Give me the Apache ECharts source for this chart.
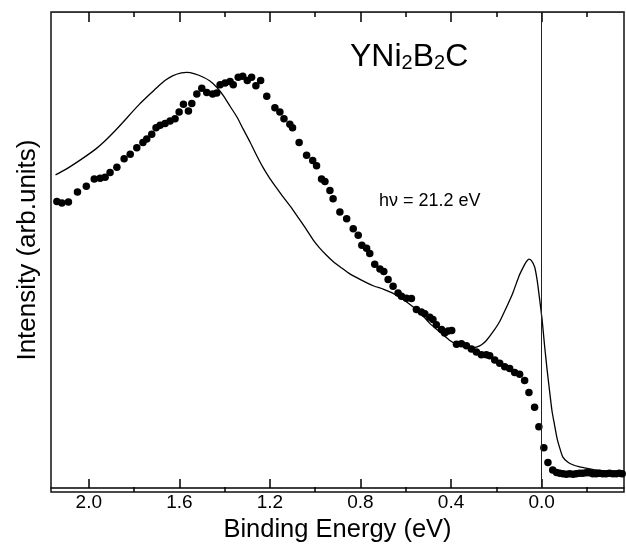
<!DOCTYPE html>
<html>
<head>
<meta charset="utf-8">
<script src="https://cdn.jsdelivr.net/npm/echarts@6/dist/echarts.min.js"></script>
<style>
html, body { margin: 0; padding: 0; background: #fff; }
#chart { width: 626px; height: 548px; }
</style>
</head>
<body>
<div id="chart"></div>
<script>
// measured points (binding energy in eV, intensity in arb. units 0..100)
var dotEnergy = [2.141, 2.119, 2.090, 2.050, 2.011, 1.976, 1.950, 1.928, 1.906, 1.876,
  1.844, 1.817, 1.788, 1.761, 1.744, 1.722, 1.703, 1.685, 1.663, 1.641,
  1.619, 1.601, 1.582, 1.560, 1.545, 1.523, 1.501, 1.479, 1.453, 1.435,
  1.420, 1.398, 1.376, 1.362, 1.340, 1.320, 1.300, 1.281, 1.262, 1.241,
  1.214, 1.178, 1.156, 1.138, 1.112, 1.100, 1.071, 1.038, 1.011, 0.994,
  0.972, 0.957, 0.935, 0.921, 0.891, 0.861, 0.832, 0.810, 0.794, 0.773,
  0.759, 0.737, 0.714, 0.697, 0.678, 0.656, 0.634, 0.619, 0.597, 0.575,
  0.553, 0.531, 0.516, 0.494, 0.480, 0.465, 0.442, 0.428, 0.413, 0.397,
  0.376, 0.354, 0.332, 0.310, 0.288, 0.266, 0.244, 0.229, 0.207, 0.185,
  0.163, 0.141, 0.119, 0.097, 0.075, 0.056, 0.031, 0.012, -0.010, -0.028,
  -0.049, -0.066, -0.080, -0.094, -0.109, -0.124, -0.139, -0.153, -0.168, -0.182,
  -0.197, -0.212, -0.226, -0.241, -0.256, -0.270, -0.285, -0.300, -0.315, -0.330,
  -0.343, -0.356];
var dotIntensity = [60.2, 59.9, 60.1, 62.2, 63.4, 64.9, 65.1, 65.3, 66.3, 67.4,
  69.2, 70.1, 71.5, 72.6, 73.3, 74.3, 75.7, 76.2, 76.6, 77.1,
  77.6, 79.0, 80.6, 79.2, 80.8, 82.8, 84.0, 83.1, 82.8, 83.0,
  84.7, 85.1, 85.4, 84.7, 86.3, 86.5, 85.6, 86.3, 84.5, 85.6,
  82.3, 79.9, 79.0, 77.6, 76.4, 75.7, 72.6, 69.9, 68.8, 67.7,
  64.9, 64.4, 62.5, 60.8, 58.0, 56.6, 54.5, 53.1, 51.0, 50.4,
  49.3, 47.0, 46.0, 45.5, 43.8, 42.4, 41.0, 40.3, 39.9, 39.8,
  37.5, 37.0, 36.6, 35.9, 35.4, 34.3, 33.3, 32.6, 33.0, 33.1,
  30.2, 30.3, 29.9, 29.2, 28.6, 28.0, 28.0, 27.8, 26.9, 26.2,
  25.5, 25.1, 24.3, 23.9, 22.6, 20.1, 17.0, 12.9, 8.5, 5.4,
  3.8, 3.3, 3.1, 3.0, 2.9, 3.0, 2.9, 3.0, 3.1, 3.1,
  3.2, 3.2, 3.0, 3.0, 3.1, 3.0, 3.0, 3.1, 3.0, 3.0,
  3.1, 3.0];

// calculated curve
var fitEnergy = [2.147, 2.100, 2.032, 1.970, 1.929, 1.885, 1.850, 1.812, 1.775, 1.738,
  1.700, 1.664, 1.630, 1.591, 1.568, 1.532, 1.494, 1.465, 1.435, 1.405,
  1.376, 1.345, 1.318, 1.288, 1.258, 1.230, 1.200, 1.170, 1.141, 1.107,
  1.075, 1.040, 1.010, 0.980, 0.950, 0.921, 0.885, 0.847, 0.800, 0.744,
  0.700, 0.660, 0.626, 0.590, 0.553, 0.524, 0.494, 0.465, 0.435, 0.405,
  0.376, 0.340, 0.310, 0.288, 0.265, 0.244, 0.215, 0.185, 0.155, 0.127,
  0.100, 0.082, 0.068, 0.056, 0.045, 0.031, 0.020, 0.009, -0.002, -0.013,
  -0.024, -0.035, -0.046, -0.057, -0.068, -0.079, -0.094, -0.115, -0.138, -0.165,
  -0.197, -0.240, -0.285, -0.330, -0.366];
var fitIntensity = [65.8, 67.0, 69.1, 71.2, 72.9, 75.0, 76.8, 78.8, 80.7, 82.4,
  84.1, 85.6, 86.6, 87.2, 87.3, 87.0, 86.3, 85.5, 84.2, 82.4,
  80.2, 77.9, 75.4, 72.7, 69.8, 67.3, 65.0, 63.0, 61.1, 59.0,
  56.8, 54.4, 52.2, 50.4, 48.9, 47.6, 46.3, 45.0, 43.8, 42.5,
  41.8, 41.0, 40.1, 38.9, 37.5, 36.2, 34.6, 33.4, 32.2, 31.0,
  30.2, 29.7, 29.5, 29.6, 30.1, 31.0, 32.8, 35.0, 38.0, 41.0,
  44.5, 46.3, 47.5, 48.1, 47.8, 46.5, 43.8, 39.8, 35.5, 30.0,
  25.0, 20.5, 16.2, 13.3, 10.5, 8.6, 6.5, 5.5, 4.9, 4.5,
  4.2, 3.8, 3.5, 3.3, 3.2];

var majorTicks = [2.0, 1.6, 1.2, 0.8, 0.4, 0.0];
var minorTicks = [1.8, 1.4, 1.0, 0.6, 0.2, -0.2];

var xMin = -0.364, xMax = 2.167;
var font = "'Liberation Sans', Arial, sans-serif";

function zip(a, b) {
  return a.map(function (v, i) { return [v, b[i]]; });
}

function xAxisDef(grid, pos, ticks, len, showLine, lineWidth, lineColor) {
  return {
    type: "value",
    gridIndex: grid,
    position: pos,
    min: xMin,
    max: xMax,
    inverse: true,
    axisLine: { show: showLine, onZero: false, lineStyle: { color: lineColor, width: lineWidth } },
    axisTick: { show: true, inside: true, length: len, customValues: ticks, lineStyle: { color: "#000", width: 1.5 } },
    axisLabel: { show: false },
    splitLine: { show: false }
  };
}

function yAxisDef(grid, pos) {
  return {
    type: "value",
    gridIndex: grid,
    position: pos,
    min: 0,
    max: 100,
    axisLine: { show: false },
    axisTick: { show: false },
    axisLabel: { show: false },
    splitLine: { show: false }
  };
}

var box = { left: 51, right: 2, top: 12, bottom: 56 };
// second copy of the box draws the frame
var frame = { left: 51, right: 2, top: 12, bottom: 56, show: true, borderColor: "#111", borderWidth: 1.5, backgroundColor: "transparent" };

var bottomMajor = xAxisDef(0, "bottom", majorTicks, 9, true, 1.6, "#000");
bottomMajor.axisLabel = {
  show: true,
  customValues: majorTicks,
  margin: 5,
  color: "#000",
  fontSize: 19,
  fontFamily: font,
  formatter: function (v) { return Number(v).toFixed(1); }
};
bottomMajor.name = "Binding Energy (eV)";
bottomMajor.nameLocation = "middle";
bottomMajor.nameGap = 28;
bottomMajor.nameTextStyle = { color: "#000", fontSize: 25.5, fontFamily: font };

var leftAxis = yAxisDef(0, "left");
leftAxis.name = "Intensity (arb.units)";
leftAxis.nameLocation = "middle";
leftAxis.nameGap = 10;
leftAxis.nameTextStyle = { color: "#000", fontSize: 26, fontFamily: font };

var chart = echarts.init(document.getElementById("chart"));
chart.setOption({
  backgroundColor: "#fff",
  animation: false,
  title: [{
    left: 345,
    top: 37,
    text: "{a|YNi}{s|2}{a|B}{s|2}{a|C}",
    textStyle: {
      rich: {
        a: { fontSize: 32, lineHeight: 31, fontWeight: "normal", color: "#000", fontFamily: font },
        s: { fontSize: 20, lineHeight: 15, verticalAlign: "bottom", fontWeight: "normal", color: "#000", fontFamily: font }
      }
    }
  }, {
    left: 374,
    top: 187,
    text: "hν = 21.2 eV",
    textStyle: { fontSize: 18, fontWeight: "normal", color: "#000", fontFamily: font }
  }],
  grid: [box, frame],
  xAxis: [
    bottomMajor,
    xAxisDef(0, "top", majorTicks, 10, true, 1, "#333"),
    xAxisDef(1, "bottom", minorTicks, 5, false, 1, "#000"),
    xAxisDef(1, "top", minorTicks, 5, false, 1, "#333")
  ],
  yAxis: [
    leftAxis,
    yAxisDef(1, "right")
  ],
  series: [{
    type: "line",
    xAxisIndex: 0,
    yAxisIndex: 0,
    data: zip(fitEnergy, fitIntensity),
    smooth: 0.2,
    showSymbol: false,
    lineStyle: { color: "#000", width: 1.3 },
    markLine: {
      silent: true,
      symbol: "none",
      label: { show: false },
      lineStyle: { color: "#222", width: 1, type: "solid" },
      data: [{ xAxis: 0 }]
    }
  }, {
    type: "scatter",
    xAxisIndex: 0,
    yAxisIndex: 0,
    data: zip(dotEnergy, dotIntensity),
    symbol: "circle",
    symbolSize: 7.5,
    itemStyle: { color: "#000", opacity: 1 }
  }]
});
</script>
</body>
</html>
